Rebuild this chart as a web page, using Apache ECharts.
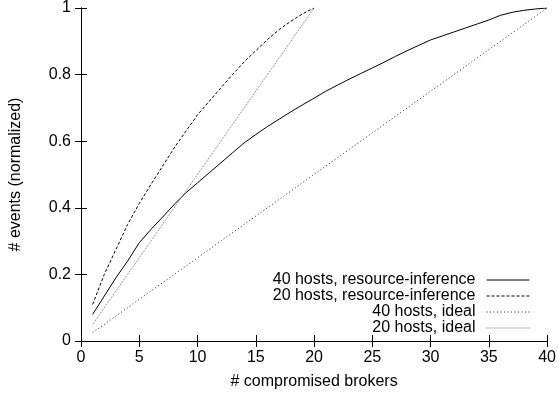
<!DOCTYPE html>
<html lang="en">
<head>
    <meta charset="UTF-8">
    <title>compromised brokers</title>
    <script src="https://cdn.jsdelivr.net/npm/echarts@6/dist/echarts.min.js"></script>
    <style>
        body { margin: 0; background: #fff; }
        #main { width: 559px; height: 397px; }
    </style>
</head>
<body>
    <div id="main"></div>
    <script type="text/javascript">
        // values
        var xTicks = [0, 5, 10, 15, 20, 25, 30, 35, 40];
        var yTicks = [0, 0.2, 0.4, 0.6, 0.8, 1];

        var brokers40 = [1, 2, 3, 4, 5, 6, 7, 8, 9, 10, 11, 12, 13, 14, 15, 16, 17, 18, 19, 20,
            21, 22, 23, 24, 25, 26, 27, 28, 29, 30, 31, 32, 33, 34, 35, 36, 37, 38, 39, 40];
        var infer40 = [0.08, 0.135, 0.19, 0.24, 0.295, 0.335, 0.372, 0.41, 0.445, 0.475,
            0.505, 0.535, 0.565, 0.595, 0.62, 0.644, 0.666, 0.688, 0.709, 0.729,
            0.75, 0.768, 0.786, 0.803, 0.82, 0.837, 0.855, 0.872, 0.888, 0.904,
            0.916, 0.928, 0.94, 0.952, 0.964, 0.978, 0.987, 0.993, 0.997, 1.0];

        var brokers20 = [1, 2, 3, 4, 5, 6, 7, 8, 9, 10, 11, 12, 13, 14, 15, 16, 17, 18, 19, 20];
        var infer20 = [0.11, 0.2, 0.275, 0.35, 0.413, 0.47, 0.525, 0.58, 0.63, 0.679,
            0.72, 0.76, 0.8, 0.838, 0.872, 0.905, 0.935, 0.96, 0.982, 1.0];

        var idealX40 = [1, 40];
        var ideal40 = [0.025, 1.0];
        var idealX20 = [1, 20];
        var ideal20 = [0.05, 1.0];

        var names = ['40 hosts, resource-inference', '20 hosts, resource-inference',
            '40 hosts, ideal', '20 hosts, ideal'];

        function pairs(xs, ys) {
            var out = [];
            for (var i = 0; i < xs.length; i++) out.push([xs[i], ys[i]]);
            return out;
        }

        var font = 'Liberation Sans, Arial, Helvetica, sans-serif';
        var tickStyle = { show: true, inside: true, length: 6, lineStyle: { color: '#000', width: 1 } };

        // one legend per entry so the line samples line up on the right
        function legendAt(name, top) {
            return {
                data: [name],
                right: 29,
                top: top,
                align: 'right',
                itemWidth: 43,
                itemHeight: 10,
                padding: 0,
                itemStyle: { opacity: 0 },
                lineStyle: { width: 1 },
                textStyle: { fontFamily: font, fontSize: 16, color: '#000', padding: [0, 6, 0, 0] },
                selectedMode: false
            };
        }

        var myChart = echarts.init(document.getElementById('main'));
        myChart.setOption({
            animation: false,
            textStyle: { fontFamily: font },
            grid: { left: 81, right: 10, top: 8, bottom: 56, show: false },
            legend: [
                legendAt(names[0], 272),
                legendAt(names[1], 288),
                legendAt(names[2], 304),
                legendAt(names[3], 320)
            ],
            xAxis: [{
                type: 'value', min: 0, max: 40, interval: 5,
                name: '# compromised brokers', nameLocation: 'middle', nameGap: 33,
                nameTextStyle: { fontSize: 16, color: '#000', fontFamily: font },
                axisLine: { show: true, lineStyle: { color: '#000', width: 1 } },
                axisTick: tickStyle,
                axisLabel: { fontSize: 16, color: '#000', margin: 9, fontFamily: font },
                splitLine: { show: false }
            }, {
                type: 'value', min: 0, max: 40, interval: 5, position: 'top',
                axisLine: { show: true, lineStyle: { color: '#000', width: 1 } },
                axisTick: tickStyle,
                axisLabel: { show: false },
                splitLine: { show: false }
            }],
            yAxis: [{
                type: 'value', min: 0, max: 1, interval: 0.2,
                name: '# events (normalized)', nameLocation: 'middle', nameGap: 57,
                nameTextStyle: { fontSize: 16, color: '#000', fontFamily: font },
                axisLine: { show: true, lineStyle: { color: '#000', width: 1 } },
                axisTick: tickStyle,
                axisLabel: { fontSize: 16, color: '#000', margin: 10, fontFamily: font },
                splitLine: { show: false }
            }, {
                type: 'value', min: 0, max: 1, interval: 0.2, position: 'right',
                axisLine: { show: true, lineStyle: { color: '#000', width: 1 } },
                axisTick: tickStyle,
                axisLabel: { show: false },
                splitLine: { show: false }
            }],
            series: [{
                name: names[0], type: 'line', symbol: 'none',
                lineStyle: { color: '#000', width: 1 },
                itemStyle: { color: '#000' },
                data: pairs(brokers40, infer40)
            }, {
                name: names[1], type: 'line', symbol: 'none',
                lineStyle: { color: '#000', width: 1, type: [3, 2] },
                itemStyle: { color: '#000' },
                data: pairs(brokers20, infer20)
            }, {
                name: names[2], type: 'line', symbol: 'none',
                lineStyle: { color: '#222', width: 1, type: [1, 2.5] },
                itemStyle: { color: '#222' },
                data: pairs(idealX40, ideal40)
            }, {
                name: names[3], type: 'line', symbol: 'none',
                lineStyle: { color: '#777', width: 1, type: [1, 1] },
                itemStyle: { color: '#777' },
                data: pairs(idealX20, ideal20)
            }]
        });
    </script>
</body>
</html>
